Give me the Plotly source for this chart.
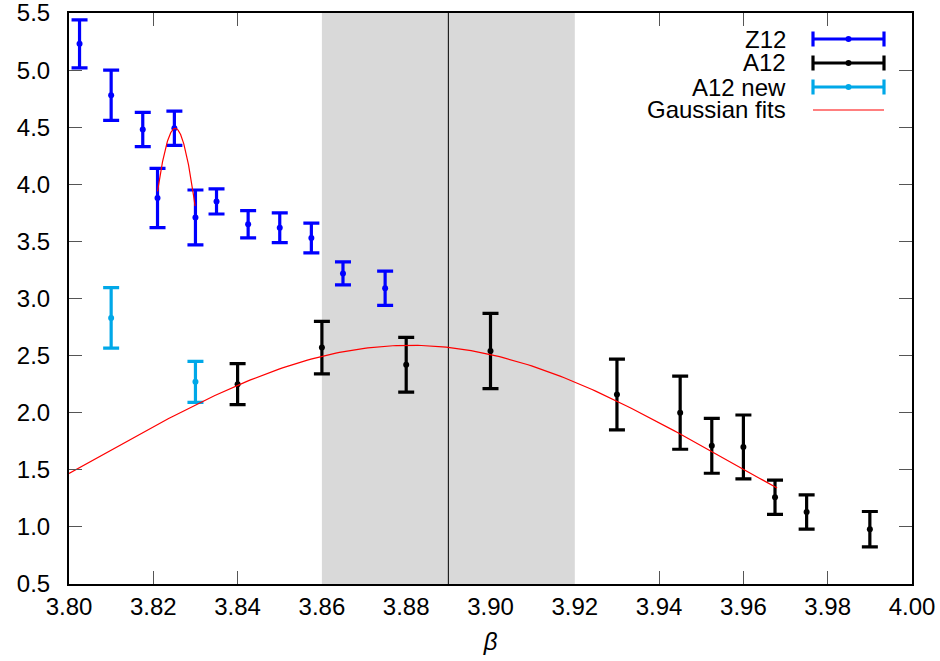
import numpy as np
import plotly.graph_objects as go

# ---- data ----
z12_x = [3.8025, 3.810, 3.8175, 3.821, 3.825, 3.830, 3.835, 3.8425, 3.850, 3.8575, 3.865, 3.875]
z12_y = [5.23, 4.78, 4.48, 3.88, 4.49, 3.71, 3.85, 3.65, 3.62, 3.53, 3.22, 3.09]
z12_err = [0.21, 0.22, 0.15, 0.26, 0.15, 0.24, 0.11, 0.12, 0.13, 0.13, 0.10, 0.15]

a12_x = [3.840, 3.860, 3.880, 3.900, 3.930, 3.945, 3.9525, 3.960, 3.9675, 3.975, 3.990]
a12_y = [2.25, 2.57, 2.42, 2.54, 2.16, 2.00, 1.71, 1.70, 1.26, 1.13, 0.98]
a12_err = [0.18, 0.23, 0.24, 0.33, 0.31, 0.32, 0.24, 0.28, 0.15, 0.15, 0.155]

a12new_x = [3.810, 3.830]
a12new_y = [2.83, 2.27]
a12new_err = [0.265, 0.18]

# Gaussian fit parameters: amplitude, mean, sigma, x-range
fit1 = dict(A=4.49, mu=3.8252, sigma=0.0082, xmin=3.821, xmax=3.8299)
fit2 = dict(A=2.59, mu=3.8809, sigma=0.0759, xmin=3.80, xmax=3.968)

band = (3.86, 3.92)
vline_x = 3.89

x_ticks = [3.80, 3.82, 3.84, 3.86, 3.88, 3.90, 3.92, 3.94, 3.96, 3.98, 4.00]
y_ticks = [0.5, 1.0, 1.5, 2.0, 2.5, 3.0, 3.5, 4.0, 4.5, 5.0, 5.5]

legend_names = ["Z12", "A12", "A12 new", "Gaussian fits"]

BLUE = "#0000ff"
BLACK = "#000000"
CYAN = "#00a8e8"
RED = "#ff0000"
FONT = "Liberation Sans"


def gauss_curve(p):
    xs = np.linspace(p["xmin"], p["xmax"], 200)
    ys = p["A"] * np.exp(-((xs - p["mu"]) ** 2) / (2 * p["sigma"] ** 2))
    return xs, ys


fig = go.Figure()


def err_trace(x, y, e, color):
    fig.add_trace(go.Scatter(
        x=x, y=y, mode="markers",
        marker=dict(color=color, size=6),
        error_y=dict(type="data", array=e, visible=True, color=color, thickness=3.2, width=8),
        showlegend=False, cliponaxis=False,
    ))


err_trace(z12_x, z12_y, z12_err, BLUE)
err_trace(a12_x, a12_y, a12_err, BLACK)
err_trace(a12new_x, a12new_y, a12new_err, CYAN)

for p in (fit1, fit2):
    gx, gy = gauss_curve(p)
    fig.add_trace(go.Scatter(x=gx, y=gy, mode="lines", line=dict(color=RED, width=1.2),
                             showlegend=False, hoverinfo="skip"))

# plot area in pixels
W, H = 940, 661
L, R, T, B = 69, 912, 13, 584


def px(xp):
    return (xp - L) / (R - L)


def py(yp):
    return (B - yp) / (B - T)


shapes = [
    dict(type="rect", xref="x", yref="paper", x0=band[0], x1=band[1], y0=0, y1=1,
         fillcolor="#d9d9d9", line=dict(width=0), layer="below"),
    dict(type="line", xref="x", yref="paper", x0=vline_x, x1=vline_x, y0=0, y1=1,
         line=dict(color="black", width=1), layer="below"),
]
annotations = []

# custom legend (text right-aligned, sample on the right)
leg_rows = [39, 63, 87, 110]
leg_colors = [BLUE, BLACK, CYAN, RED]
sx0, sx1 = 813, 884
for name, yy, col in zip(legend_names, leg_rows, leg_colors):
    annotations.append(dict(xref="paper", yref="paper", x=px(788), y=py(yy), text=name,
                            showarrow=False, xanchor="right", yanchor="middle",
                            font=dict(family=FONT, size=24, color="black")))
    if col == RED:
        shapes.append(dict(type="line", xref="paper", yref="paper", x0=px(sx0), x1=px(sx1),
                           y0=py(yy), y1=py(yy), line=dict(color=RED, width=1.2)))
    else:
        shapes.append(dict(type="line", xref="paper", yref="paper", x0=px(sx0), x1=px(sx1),
                           y0=py(yy), y1=py(yy), line=dict(color=col, width=3.2)))
        for xx in (sx0, sx1):
            shapes.append(dict(type="line", xref="paper", yref="paper", x0=px(xx), x1=px(xx),
                               y0=py(yy - 7.5), y1=py(yy + 7.5), line=dict(color=col, width=3.2)))
        shapes.append(dict(type="circle", xref="paper", yref="paper",
                           x0=px((sx0 + sx1) / 2 - 3), x1=px((sx0 + sx1) / 2 + 3),
                           y0=py(yy - 3), y1=py(yy + 3), fillcolor=col, line=dict(width=0)))

tick_only_x = [v for v in x_ticks if not (band[0] <= v <= band[1])]

fig.update_layout(
    width=W, height=H,
    margin=dict(l=L, r=W - R, t=T, b=H - B, autoexpand=False),
    paper_bgcolor="white", plot_bgcolor="white",
    font=dict(family=FONT, size=24, color="black"),
    shapes=shapes, annotations=annotations,
    showlegend=False,
    xaxis=dict(range=[3.80, 4.00], tickvals=x_ticks, ticktext=[f"{v:.2f}" for v in x_ticks],
               ticks="", showgrid=False, zeroline=False, automargin=False,
               ticklabeloverflow="allow",
               showline=True, linecolor="black", linewidth=2, mirror=True,
               title=dict(text="<i>β</i>", font=dict(size=24), standoff=14)),
    xaxis2=dict(range=[3.80, 4.00], overlaying="x", side="bottom", tickvals=tick_only_x,
                ticks="inside", ticklen=13, tickcolor="#555555", tickwidth=1, automargin=False,
                showticklabels=False, showgrid=False, zeroline=False, showline=False,
                mirror="ticks"),
    yaxis=dict(range=[0.5, 5.5], tickvals=y_ticks, ticktext=[f"{v:.1f}" for v in y_ticks],
               ticks="inside", ticklen=13, tickcolor="#555555", tickwidth=1, automargin=False,
               ticklabeloverflow="allow",
               showgrid=False, zeroline=False,
               showline=True, linecolor="black", linewidth=2, mirror="ticks",
               ticklabelstandoff=12),
)

# dummy trace to activate xaxis2
fig.add_trace(go.Scatter(x=[3.80], y=[0.5], xaxis="x2", mode="markers",
                         marker=dict(opacity=0), showlegend=False, hoverinfo="skip"))

fig.write_html("out.html")
